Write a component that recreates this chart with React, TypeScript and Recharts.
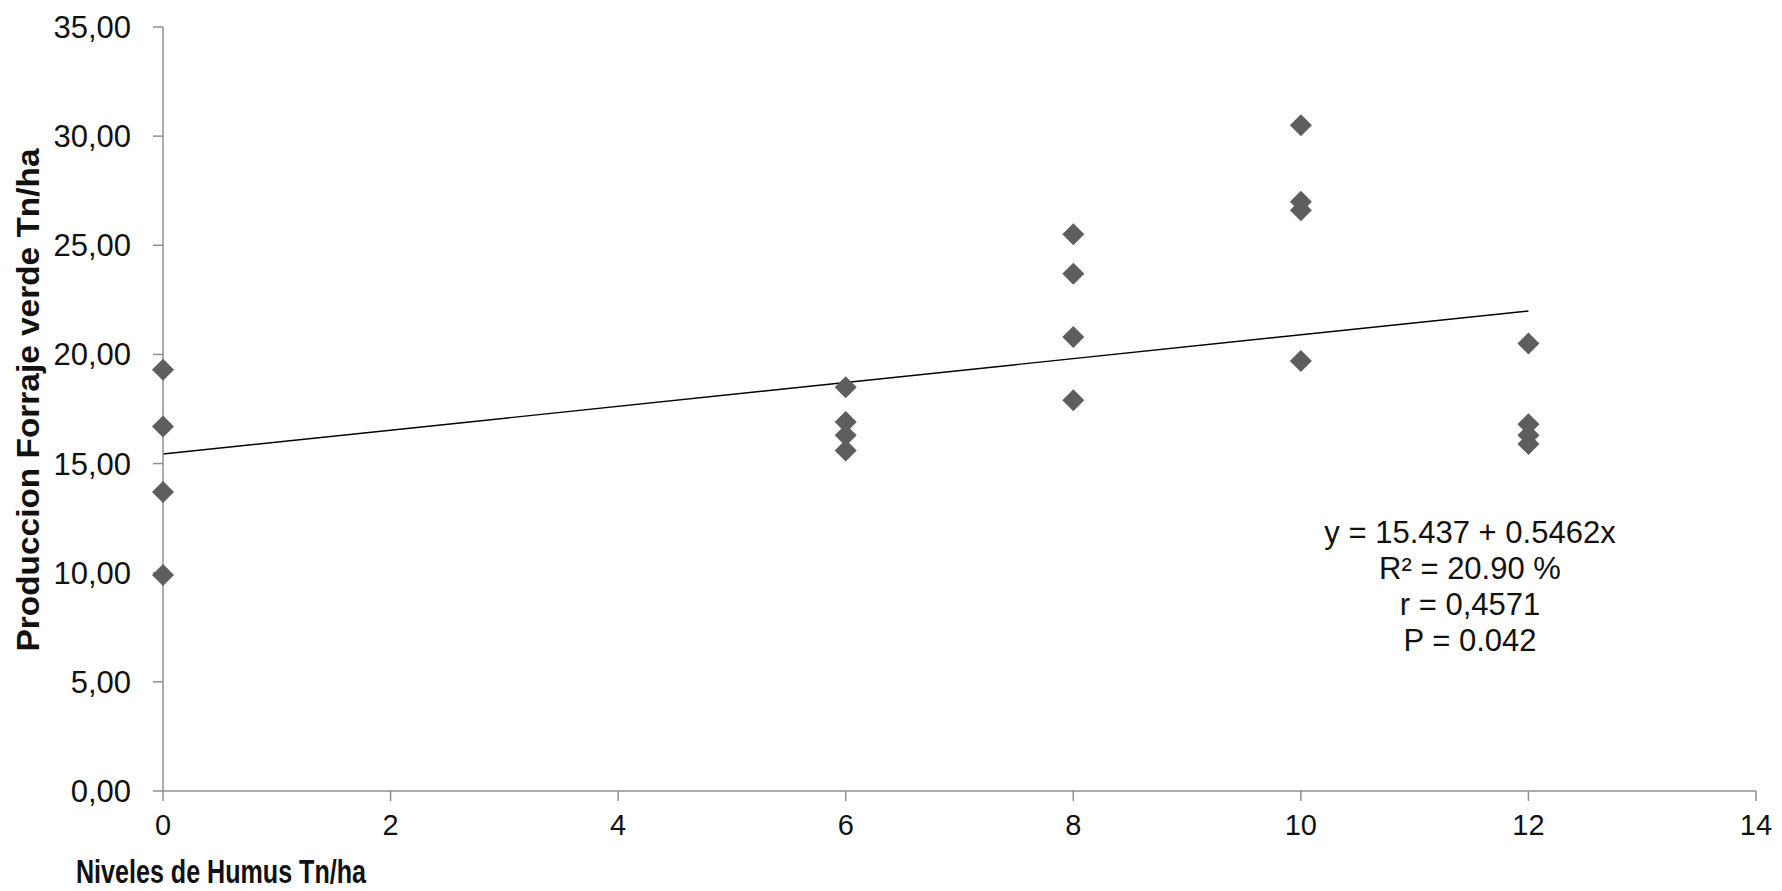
import { ScatterChart, Scatter, XAxis, YAxis, ReferenceLine } from 'recharts';

// humus level (Tn/ha) and the four forage yields read at each level
const levels = [0, 6, 8, 10, 12];
const yields0 = [19.3, 16.7, 13.7, 9.9];
const yields6 = [18.5, 16.9, 16.3, 15.6];
const yields8 = [25.5, 23.7, 20.8, 17.9];
const yields10 = [30.5, 27.0, 26.6, 19.7];
const yields12 = [20.5, 16.8, 16.3, 15.9];

const xTicks = [0, 2, 4, 6, 8, 10, 12, 14];
const yTicks = [0, 5, 10, 15, 20, 25, 30, 35];

// fitted line as printed on the chart
const intercept = 15.437;
const slope = 0.5462;
const fitFrom = 0;
const fitTo = 12;

const equationLines = ['y = 15.437 + 0.5462x', 'R² = 20.90 %', 'r = 0,4571', 'P = 0.042'];

const byLevel = [yields0, yields6, yields8, yields10, yields12];
const points = levels.flatMap((lv, i) => byLevel[i].map((v) => ({ x: lv, y: v })));

const FONT = '"Liberation Sans", Arial, sans-serif';
const AXIS = '#8f8f8f';

const Diamond = (props: any) => {
    const { cx, cy } = props;
    const s = 11;
    return (
        <polygon
            points={`${cx},${cy - s} ${cx + s},${cy} ${cx},${cy + s} ${cx - s},${cy}`}
            fill="#5e5e5e"
        />
    );
};

export default function App() {
    return (
        <div style={{ position: 'relative', width: 1766, height: 883 }}>
            <ScatterChart
                width={1766}
                height={883}
                margin={{ top: 19, right: 18, bottom: 0, left: 0 }}
            >
                <XAxis
                    type="number"
                    dataKey="x"
                    domain={[0, 14]}
                    ticks={xTicks}
                    interval={0}
                    height={100}
                    stroke={AXIS}
                    strokeWidth={1.5}
                    tickSize={10}
                    tickMargin={13}
                    tick={{ fontSize: 29, fill: '#111', fontFamily: FONT }}
                    label={{
                        content: () => (
                            // condensed bold, like the Arial Narrow title in the original
                            <text
                                x={213}
                                y={875}
                                textAnchor="middle"
                                fontFamily={FONT}
                                fontWeight="bold"
                                fontSize={33}
                                textLength={290}
                                lengthAdjust="spacingAndGlyphs"
                                fill="#111"
                            >
                                Niveles de Humus Tn/ha
                            </text>
                        ),
                    }}
                />
                <YAxis
                    type="number"
                    dataKey="y"
                    domain={[0, 35]}
                    ticks={yTicks}
                    interval={0}
                    width={155}
                    stroke={AXIS}
                    strokeWidth={1.5}
                    tickSize={10}
                    tickMargin={22}
                    tickFormatter={(v: number) => v.toFixed(2).replace('.', ',')}
                    tick={{ fontSize: 31, fill: '#111', fontFamily: FONT }}
                    label={{
                        content: () => (
                            <text
                                x={20}
                                y={392}
                                transform="rotate(-90 20 392)"
                                textAnchor="middle"
                                dominantBaseline="central"
                                fontFamily={FONT}
                                fontWeight="bold"
                                fontSize={32}
                                textLength={503}
                                lengthAdjust="spacingAndGlyphs"
                                fill="#111"
                            >
                                Produccion Forraje verde Tn/ha
                            </text>
                        ),
                    }}
                />
                <ReferenceLine
                    segment={[
                        { x: fitFrom, y: intercept + slope * fitFrom },
                        { x: fitTo, y: intercept + slope * fitTo },
                    ]}
                    stroke="#000"
                    strokeWidth={1.4}
                    ifOverflow="visible"
                />
                <Scatter data={points} shape={Diamond} isAnimationActive={false} />
            </ScatterChart>
            <div
                style={{
                    position: 'absolute',
                    left: 1262,
                    top: 507,
                    width: 400,
                    textAlign: 'center',
                    fontFamily: FONT,
                    fontSize: 31,
                    lineHeight: '36px',
                    color: '#111',
                }}
            >
                {equationLines.map((l) => (
                    <div key={l}>{l}</div>
                ))}
            </div>
        </div>
    );
}
